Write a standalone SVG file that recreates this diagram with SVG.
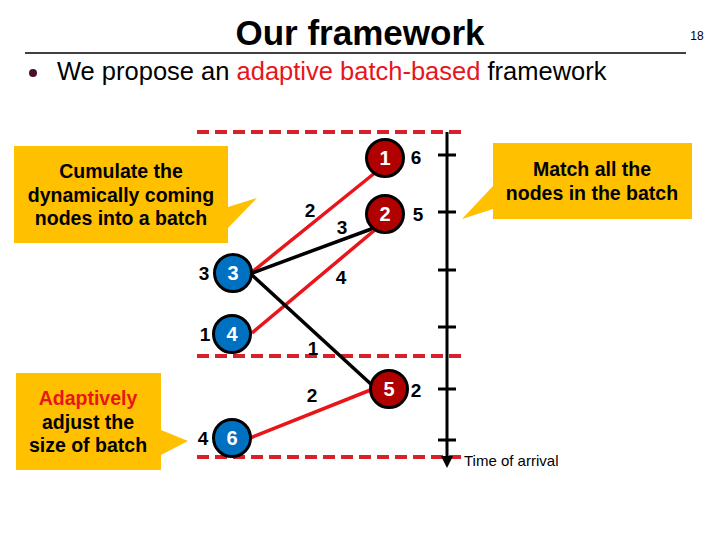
<svg xmlns="http://www.w3.org/2000/svg" width="720" height="540" viewBox="0 0 720 540">
<style>
text{font-family:"Liberation Sans",Arial,sans-serif}
.title{font-size:35px;font-weight:bold;fill:#000}
.sub{font-size:25.5px;fill:#000}
.call{fill:#FFC000}
.ct{font-size:19.5px;font-weight:bold;fill:#000;text-anchor:middle}
.dash{stroke:#D9202A;stroke-width:4;stroke-dasharray:12 6;fill:none}
.red{stroke:#E8151B;stroke-width:3.5;fill:none}
.blk{stroke:#000;stroke-width:3.5;fill:none}
.nr{fill:#B00000;stroke:#000;stroke-width:3}
.nb{fill:#0070C0;stroke:#000;stroke-width:3}
.nt{font-size:20px;font-weight:bold;fill:#fff;text-anchor:middle}
.lab{font-size:19px;font-weight:bold;fill:#000;text-anchor:middle}
.tick{stroke:#000;stroke-width:3}
</style>
<defs>
<marker id="arr" markerWidth="12" markerHeight="12" refX="6" refY="6" orient="auto" markerUnits="userSpaceOnUse">
<path d="M0,0 L12,6 L0,12 z" fill="#000"/>
</marker>
</defs>
<g id="header">
<text class="title" x="360" y="45" text-anchor="middle">Our framework</text>
<text x="697" y="40" font-size="12" text-anchor="middle" fill="#000">18</text>
<line x1="25" y1="53" x2="686" y2="53" stroke="#000" stroke-width="1.5"/>
<circle cx="33" cy="73" r="4" fill="#4A0D2A"/>
<text class="sub" x="57" y="80">We propose an <tspan fill="#E8151B">adaptive batch-based</tspan> framework</text>
</g>
<g id="batch-lines">
<line class="dash" x1="197" y1="132" x2="463" y2="132"/>
<line class="dash" x1="197" y1="356" x2="463" y2="356"/>
<line class="dash" x1="197" y1="457" x2="463" y2="457"/>
</g>
<g id="time-axis">
<line x1="447" y1="132" x2="447" y2="462" stroke="#000" stroke-width="3" marker-end="url(#arr)"/>
<line class="tick" x1="438" y1="155" x2="456" y2="155"/>
<line class="tick" x1="438" y1="212" x2="456" y2="212"/>
<line class="tick" x1="438" y1="270" x2="456" y2="270"/>
<line class="tick" x1="438" y1="327" x2="456" y2="327"/>
<line class="tick" x1="438" y1="389" x2="456" y2="389"/>
<line class="tick" x1="438" y1="440" x2="456" y2="440"/>
<text x="464" y="466" font-size="15" fill="#000">Time of arrival</text>
</g>
<g id="connectors">
<line class="red" x1="252" y1="272" x2="376" y2="172"/>
<line class="blk" x1="252" y1="273" x2="374" y2="228"/>
<line class="red" x1="252" y1="333" x2="376" y2="229"/>
<line class="blk" x1="252" y1="275" x2="373" y2="386"/>
<line class="red" x1="250" y1="438" x2="373" y2="389"/>
<text class="lab" x="310" y="217">2</text>
<text class="lab" x="342" y="234">3</text>
<text class="lab" x="341" y="284">4</text>
<text class="lab" x="313" y="355">1</text>
<text class="lab" x="312" y="402">2</text>
</g>
<g id="node-r1"><circle class="nr" cx="385" cy="158" r="18.5"/><text class="nt" x="385" y="165">1</text><text class="lab" x="416" y="164">6</text></g>
<g id="node-r2"><circle class="nr" cx="385" cy="214" r="18.5"/><text class="nt" x="385" y="221">2</text><text class="lab" x="418" y="221">5</text></g>
<g id="node-b3"><circle class="nb" cx="233" cy="273" r="18.5"/><text class="nt" x="233" y="280">3</text><text class="lab" x="204" y="280">3</text></g>
<g id="node-b4"><circle class="nb" cx="232" cy="334" r="18.5"/><text class="nt" x="232" y="341">4</text><text class="lab" x="205" y="341">1</text></g>
<g id="node-r5"><circle class="nr" cx="389" cy="389" r="18.5"/><text class="nt" x="389" y="396">5</text><text class="lab" x="416" y="397">2</text></g>
<g id="node-b6"><circle class="nb" cx="232" cy="438" r="18.5"/><text class="nt" x="232" y="445">6</text><text class="lab" x="203" y="445">4</text></g>
<g id="callout-cumulate">
<path class="call" d="M14,146 H228 V207 L257,198 L228,228 V243 H14 Z"/>
<text class="ct" x="121" y="178">Cumulate the</text>
<text class="ct" x="121" y="202">dynamically coming</text>
<text class="ct" x="121" y="225">nodes into a batch</text>
</g>
<g id="callout-match">
<path class="call" d="M493,143 H692 V219 H493 V209 L462,219 L493,186 Z"/>
<text class="ct" x="592" y="176">Match all the</text>
<text class="ct" x="592" y="200">nodes in the batch</text>
</g>
<g id="callout-adapt">
<path class="call" d="M16,373 H161 V430 L188,441 L161,455 V470 H16 Z"/>
<text class="ct" x="88" y="405"><tspan fill="#E8151B">Adaptively</tspan></text>
<text class="ct" x="88" y="429">adjust the</text>
<text class="ct" x="88" y="452">size of batch</text>
</g>
</svg>
